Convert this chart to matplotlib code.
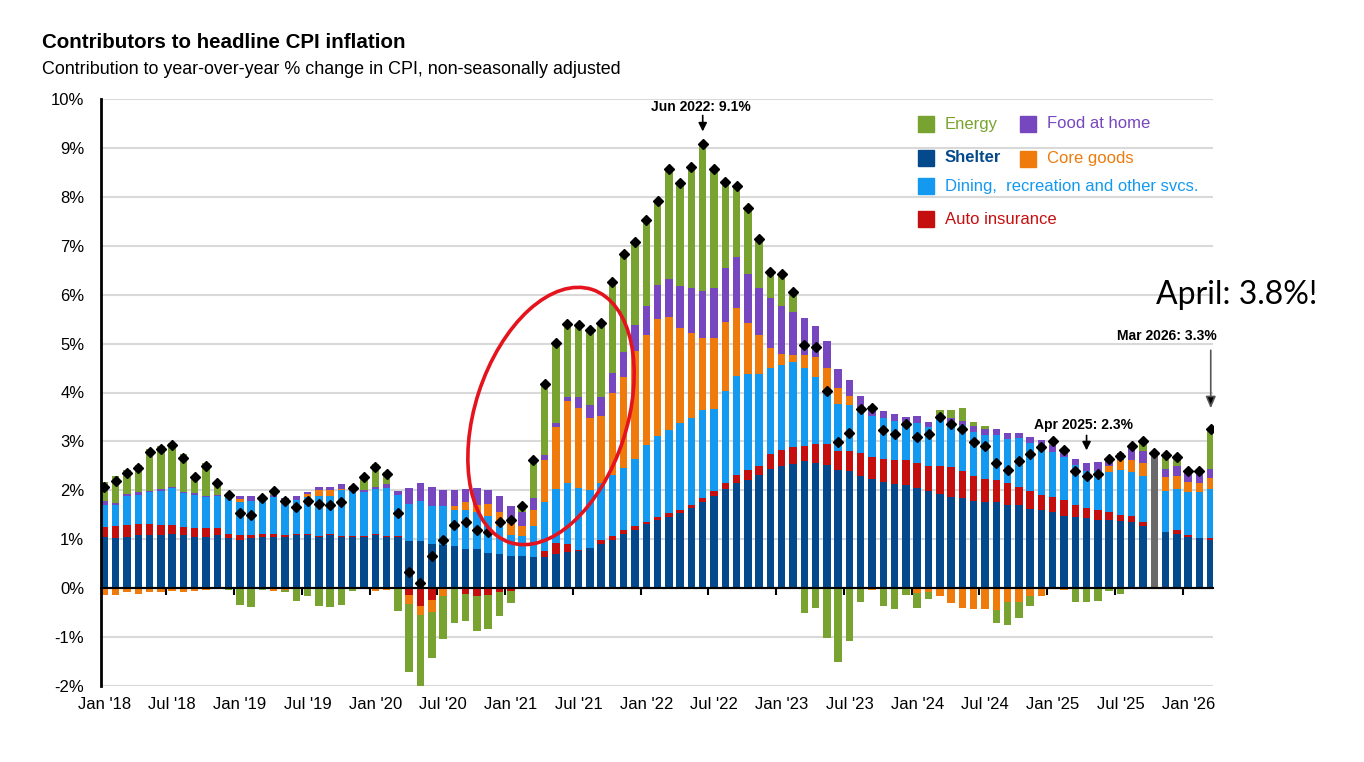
import numpy as np
import pandas as pd
import matplotlib.pyplot as plt
from matplotlib.patches import Ellipse
from matplotlib.lines import Line2D

plt.rcParams['font.family'] = ['Liberation Sans', 'DejaVu Sans']

months = pd.date_range('2018-01-01', '2026-03-01', freq='MS')

# contribution to y/y CPI, percentage points (one row per year)
shelter = [1.05, 1.03, 1.05, 1.09, 1.09, 1.09, 1.11, 1.09, 1.05, 1.05, 1.09, 1.03,
           0.99, 1.02, 1.05, 1.05, 1.05, 1.09, 1.09, 1.05, 1.09, 1.05, 1.05, 1.05,
           1.09, 1.05, 1.05, 0.97, 0.97, 0.90, 0.89, 0.86, 0.80, 0.80, 0.71, 0.69,
           0.66, 0.65, 0.64, 0.64, 0.69, 0.74, 0.76, 0.82, 0.91, 0.98, 1.10, 1.19,
           1.31, 1.40, 1.46, 1.53, 1.63, 1.77, 1.88, 2.02, 2.14, 2.22, 2.31, 2.44,
           2.49, 2.54, 2.59, 2.56, 2.52, 2.42, 2.39, 2.30, 2.24, 2.18, 2.13, 2.10,
           2.05, 1.98, 1.93, 1.87, 1.84, 1.79, 1.76, 1.76, 1.70, 1.69, 1.61, 1.60,
           1.55, 1.47, 1.45, 1.43, 1.40, 1.40, 1.37, 1.36, 1.28, 0.00, 1.14, 1.11,
           1.05, 1.02, 0.99]
auto_ins = [0.21, 0.25, 0.24, 0.22, 0.22, 0.20, 0.18, 0.17, 0.18, 0.18, 0.14, 0.08,
            0.10, 0.07, 0.05, 0.05, 0.04, 0.02, 0.02, 0.02, 0.02, 0.02, 0.02, 0.02,
            0.02, 0.02, 0.02, -0.14, -0.36, -0.24, 0.00, 0.00, -0.12, -0.17, -0.14, -0.08,
            -0.05, -0.02, -0.02, 0.12, 0.24, 0.16, 0.02, 0.00, 0.08, 0.08, 0.09, 0.08,
            0.05, 0.06, 0.07, 0.07, 0.07, 0.08, 0.10, 0.13, 0.17, 0.19, 0.19, 0.31,
            0.33, 0.34, 0.31, 0.38, 0.42, 0.39, 0.42, 0.46, 0.45, 0.46, 0.49, 0.51,
            0.51, 0.51, 0.57, 0.60, 0.55, 0.51, 0.48, 0.46, 0.46, 0.38, 0.37, 0.31,
            0.31, 0.33, 0.24, 0.20, 0.20, 0.16, 0.13, 0.12, 0.08, 0.00, 0.00, 0.08,
            0.04, 0.00, 0.03]
dining = [0.43, 0.41, 0.59, 0.59, 0.65, 0.70, 0.75, 0.68, 0.67, 0.63, 0.65, 0.76,
          0.68, 0.70, 0.71, 0.76, 0.70, 0.70, 0.75, 0.82, 0.78, 0.93, 0.97, 0.89,
          0.92, 0.97, 0.83, 0.75, 0.82, 0.77, 0.78, 0.74, 0.79, 0.76, 0.77, 0.58,
          0.43, 0.41, 0.63, 1.01, 1.09, 1.26, 1.27, 1.18, 1.16, 1.25, 1.26, 1.38,
          1.56, 1.65, 1.70, 1.78, 1.78, 1.79, 1.69, 1.88, 2.03, 1.96, 1.87, 1.76,
          1.74, 1.75, 1.61, 1.37, 1.12, 0.95, 0.93, 0.88, 0.82, 0.84, 0.79, 0.76,
          0.81, 0.80, 1.01, 0.90, 0.95, 0.90, 0.90, 0.92, 0.89, 1.00, 0.99, 1.00,
          0.93, 0.88, 0.82, 0.77, 0.80, 0.81, 0.92, 0.89, 0.93, 0.00, 0.85, 0.84,
          0.88, 0.94, 1.01]
core_goods = [-0.13, -0.13, -0.08, -0.11, -0.07, -0.07, -0.05, -0.07, -0.06, -0.04, -0.02, 0.00,
              0.05, 0.00, 0.00, -0.05, -0.03, 0.00, 0.07, 0.12, 0.12, 0.03, 0.00, 0.00,
              -0.06, -0.03, 0.00, -0.18, -0.19, -0.24, -0.17, 0.07, 0.17, 0.15, 0.24, 0.28,
              0.25, 0.21, 0.33, 0.86, 1.28, 1.66, 1.64, 1.48, 1.36, 1.67, 1.87, 2.20,
              2.25, 2.40, 2.32, 1.93, 1.73, 1.48, 1.45, 1.42, 1.38, 1.06, 0.80, 0.40,
              0.23, 0.13, 0.26, 0.41, 0.45, 0.33, 0.18, 0.00, -0.04, 0.00, 0.00, 0.00,
              -0.10, -0.07, -0.17, -0.31, -0.40, -0.43, -0.43, -0.44, -0.28, -0.28, -0.15, -0.16,
              -0.02, -0.03, 0.00, 0.00, 0.00, 0.12, 0.19, 0.25, 0.26, 0.00, 0.28, 0.26,
              0.21, 0.18, 0.22]
food_home = [0.09, 0.05, 0.04, 0.06, 0.03, 0.04, 0.03, 0.03, 0.05, 0.02, 0.03, 0.02,
             0.07, 0.10, 0.05, 0.04, 0.06, 0.08, 0.04, 0.05, 0.05, 0.09, 0.04, 0.05,
             0.03, 0.09, 0.09, 0.32, 0.36, 0.39, 0.34, 0.34, 0.27, 0.34, 0.29, 0.34,
             0.33, 0.29, 0.25, 0.10, 0.08, 0.09, 0.22, 0.26, 0.40, 0.41, 0.51, 0.52,
             0.60, 0.69, 0.78, 0.87, 0.93, 0.96, 1.01, 1.09, 1.06, 1.00, 0.97, 1.03,
             0.98, 0.89, 0.75, 0.63, 0.55, 0.40, 0.34, 0.29, 0.21, 0.15, 0.16, 0.12,
             0.14, 0.10, 0.04, 0.11, 0.08, 0.11, 0.11, 0.11, 0.12, 0.10, 0.13, 0.11,
             0.14, 0.13, 0.14, 0.15, 0.17, 0.17, 0.15, 0.26, 0.26, 0.00, 0.17, 0.20,
             0.17, 0.19, 0.19]
energy = [0.40, 0.55, 0.49, 0.56, 0.85, 0.88, 0.89, 0.77, 0.28, 0.67, 0.22, -0.03,
          -0.35, -0.38, -0.03, 0.05, -0.05, -0.26, -0.15, -0.36, -0.38, -0.35, -0.05, 0.27,
          0.47, 0.24, -0.46, -1.40, -1.49, -0.95, -0.87, -0.72, -0.56, -0.70, -0.69, -0.48,
          -0.25, 0.15, 0.82, 1.46, 1.64, 1.50, 1.49, 1.54, 1.52, 1.87, 2.01, 1.71,
          1.76, 1.71, 2.23, 2.10, 2.48, 3.01, 2.43, 1.77, 1.44, 1.35, 0.99, 0.53,
          0.66, 0.41, -0.51, -0.40, -1.01, -1.51, -1.09, -0.29, 0.00, -0.37, -0.43, -0.14,
          -0.30, -0.15, 0.10, 0.17, 0.26, 0.08, 0.06, -0.28, -0.47, -0.33, -0.22, 0.00,
          0.07, 0.03, -0.28, -0.28, -0.26, -0.05, -0.12, 0.00, 0.17, 0.00, 0.25, 0.19,
          -0.02, 0.04, 0.83]
headline = [2.07, 2.19, 2.36, 2.45, 2.79, 2.84, 2.93, 2.67, 2.27, 2.50, 2.16, 1.90,
            1.53, 1.50, 1.85, 1.98, 1.78, 1.65, 1.79, 1.73, 1.70, 1.77, 2.05, 2.28,
            2.47, 2.33, 1.53, 0.33, 0.10, 0.65, 0.99, 1.30, 1.36, 1.19, 1.14, 1.36,
            1.40, 1.68, 2.63, 4.17, 5.02, 5.41, 5.38, 5.28, 5.43, 6.25, 6.84, 7.08,
            7.53, 7.91, 8.56, 8.28, 8.62, 9.09, 8.56, 8.31, 8.22, 7.78, 7.13, 6.47,
            6.43, 6.06, 4.98, 4.93, 4.04, 2.99, 3.18, 3.67, 3.69, 3.24, 3.15, 3.36,
            3.09, 3.16, 3.50, 3.35, 3.26, 2.99, 2.90, 2.56, 2.42, 2.59, 2.74, 2.88,
            3.00, 2.83, 2.39, 2.30, 2.33, 2.64, 2.71, 2.90, 3.00, 2.77, 2.73, 2.68,
            2.39, 2.39, 3.26]

# Oct 2025: no components published, shown as a grey placeholder bar
gap_month = '2025-10'
gap_value = 2.78

series = [('Shelter', shelter, '#05498d'),
          ('Auto insurance', auto_ins, '#c50f0f'),
          ('Dining,  recreation and other svcs.', dining, '#1399f0'),
          ('Core goods', core_goods, '#ee7b0c'),
          ('Food at home', food_home, '#7747bf'),
          ('Energy', energy, '#79a330')]

x = np.arange(len(months))
w = 0.66

fig = plt.figure(figsize=(13.64, 7.62), dpi=100)
ax = fig.add_axes([101/1364, 1 - 686/762, 1112/1364, 587/762])

pos = np.zeros(len(x))
neg = np.zeros(len(x))
for name, vals, col in series:
    v = np.array(vals)
    b = np.where(v >= 0, pos, neg)
    ax.bar(x, v, w, bottom=b, color=col, zorder=2)
    pos += np.clip(v, 0, None)
    neg += np.clip(v, None, 0)

gi = months.get_loc(pd.Timestamp(gap_month))
ax.bar(gi, gap_value, w, color='#6a6a6a', zorder=2)

ax.plot(x, headline, 'D', color='black', ms=4.8, zorder=5)

ax.set_xlim(-0.3, 98.2)
ax.set_ylim(-2, 10)
ax.set_yticks(range(-2, 11))
ax.set_yticklabels([f'{t}%' for t in range(-2, 11)], fontsize=12)
ax.grid(axis='y', color='#d9d9d9', lw=1.5, zorder=0)
ax.set_axisbelow(True)

lab_idx = [i for i, m in enumerate(months) if m.month in (1, 7)]
ax.set_xticks(lab_idx)
ax.set_xticklabels([f"{months[i]:%b} '{months[i]:%y}" for i in lab_idx], fontsize=12)
ax.tick_params(axis='x', length=0, pad=8)
ax.tick_params(axis='y', length=0, pad=12)

for s in ['top', 'right', 'bottom']:
    ax.spines[s].set_visible(False)
ax.spines['left'].set_linewidth(2)

# zero axis with tick marks between categories
ax.axhline(0, color='black', lw=1.5, zorder=4)
sec = ax.secondary_xaxis(2/12)
sec.set_xticks([i - 0.5 for i in lab_idx])
sec.set_xticklabels([])
sec.tick_params(length=5, width=1.5, color='black')
sec.spines['bottom'].set_linewidth(1.5)

# annotations
ax.annotate('', xy=(53, 9.28), xytext=(53, 9.72),
            arrowprops=dict(arrowstyle='-|>,head_width=0.25,head_length=0.5', color='black', lw=1.2))
ax.text(52.8, 9.84, 'Jun 2022: 9.1%', ha='center', va='center', fontsize=10, weight='bold')
ax.annotate('', xy=(87, 2.76), xytext=(87, 3.18),
            arrowprops=dict(arrowstyle='-|>,head_width=0.25,head_length=0.5', color='black', lw=1.2))
ax.text(86.7, 3.34, 'Apr 2025: 2.3%', ha='center', va='center', fontsize=10, weight='bold')
ax.annotate('', xy=(98, 3.62), xytext=(98, 4.92),
            arrowprops=dict(arrowstyle='-|>,head_width=0.3,head_length=0.7', fc='black', ec='#555555', lw=1.2))
ax.text(94.1, 5.15, 'Mar 2026: 3.3%', ha='center', va='center', fontsize=10, weight='bold')

# legend drawn by hand
leg = [('Energy', '#79a330', 926, 124), ('Food at home', '#7747bf', 1028, 124),
       ('Shelter', '#05498d', 926, 158), ('Core goods', '#ee7b0c', 1028, 159),
       ('Dining,  recreation and other svcs.', '#1399f0', 926, 186),
       ('Auto insurance', '#c50f0f', 926, 219)]
for name, col, px, py in leg:
    fig.add_artist(Line2D([px/1364], [1 - py/762], marker='s', ms=11, color=col,
                          transform=fig.transFigure))
    fig.text((px + 19)/1364, 1 - py/762, name, color=col, fontsize=12, va='center',
             weight='bold' if name == 'Shelter' else 'normal')

fig.text(42/1364, 1 - 43/762, 'Contributors to headline CPI inflation', fontsize=14.8,
         weight='bold', va='center')
fig.text(42/1364, 1 - 70/762, 'Contribution to year-over-year % change in CPI, non-seasonally adjusted',
         fontsize=12.9, va='center')

fig.text(1237/1364, 1 - 295/762, 'April: 3.8%!', fontsize=23, ha='center', va='center',
         family=['Lato', 'DejaVu Sans'])

fig.add_artist(Ellipse((5.51, 3.46), 1.52, 2.66, angle=-18, transform=fig.dpi_scale_trans,
                       fill=False, ec='#e5131d', lw=2.6, zorder=10))

fig.savefig('out.png', dpi=100)
